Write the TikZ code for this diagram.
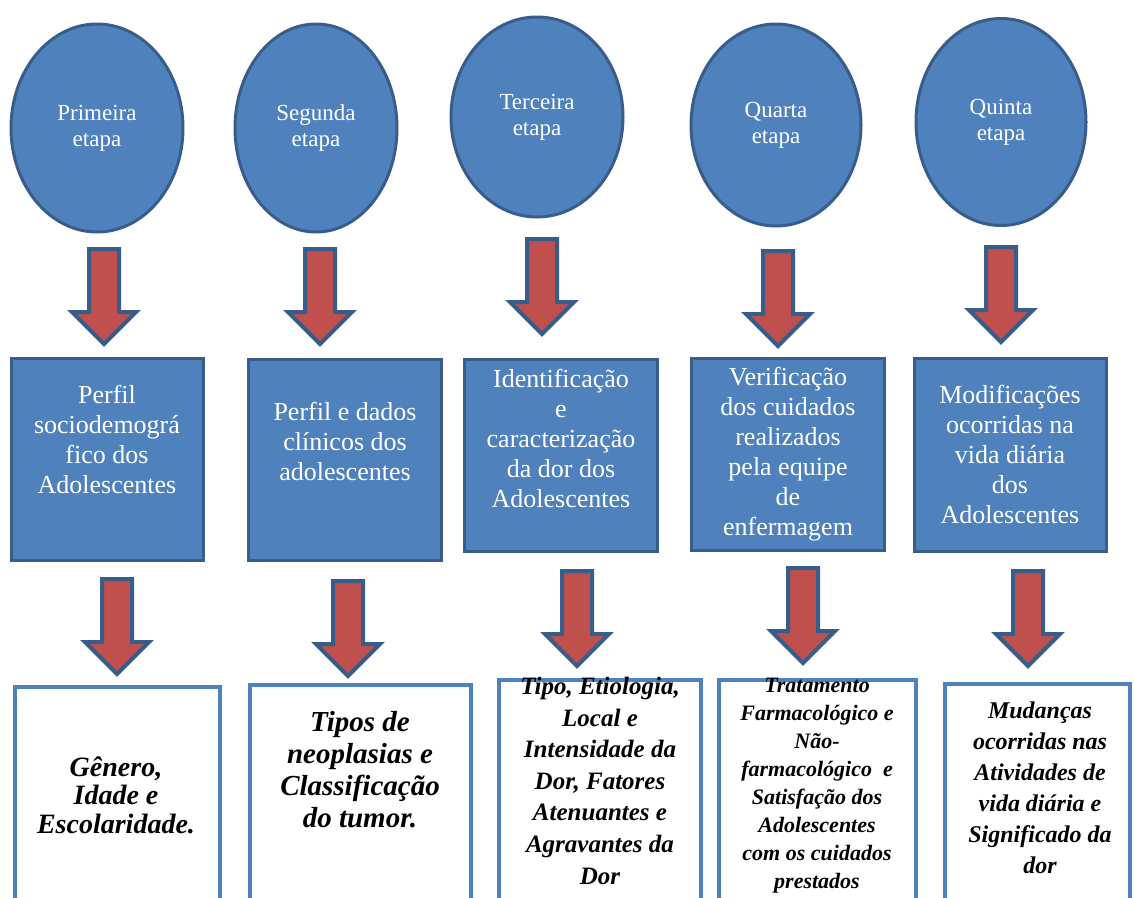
\documentclass[tikz,border=0pt]{standalone}
\usepackage{fontspec}
\setmainfont{Liberation Serif}
\usetikzlibrary{shapes.geometric,shapes.arrows}
\definecolor{stepblue}{HTML}{4F81BD}
\definecolor{stepedge}{HTML}{385D8A}
\definecolor{arrowred}{HTML}{C0504D}
\tikzset{
  etapa/.style={ellipse, fill=stepblue, draw=stepedge, line width=3pt, inner sep=0pt,
    text=white, align=center, font=\fontsize{23}{26}\selectfont},
  perfil/.style={rectangle, fill=stepblue, draw=stepedge, line width=3pt, inner sep=0pt},
  perfiltext/.style={text=white, align=center, inner sep=0pt, anchor=base,
    font=\fontsize{26}{30}\selectfont},
  desce/.style={single arrow, shape border rotate=270, single arrow head extend=17pt,
    fill=arrowred, draw=stepedge, line width=4pt, inner sep=13pt, text width=0pt,
    text height=0pt, text depth=0pt, minimum height=95pt, anchor=tail},
  resultado/.style={rectangle, fill=white, draw=stepblue, line width=4pt, inner sep=0pt},
  resultadotext/.style={align=center, inner sep=0pt, anchor=base}
}
\begin{document}
\begin{tikzpicture}[x=1pt,y=-1pt]
    \useasboundingbox (0,0) rectangle (1134,897);
    \clip (0,0) rectangle (1134,897);

    \node[etapa, minimum width=172pt, minimum height=208pt] (c1) at (97,128) {Primeira\\etapa};
    \node[etapa, minimum width=162pt, minimum height=208pt] (c2) at (316,128) {Segunda\\etapa};
    \node[etapa, minimum width=172pt, minimum height=200pt] (c3) at (537,117) {Terceira\\etapa};
    \node[etapa, minimum width=170pt, minimum height=202pt] (c4) at (776,125) {Quarta\\etapa};
    \node[etapa, minimum width=170pt, minimum height=207pt] (c5) at (1001,122) {Quinta\\etapa};

    \node[perfil, minimum width=192pt, minimum height=202pt] (b1) at (107.5,459.5) {};
    \node[perfil, minimum width=193pt, minimum height=201pt] (b2) at (345,460) {};
    \node[perfil, minimum width=193pt, minimum height=192pt] (b3) at (561,455.5) {};
    \node[perfil, minimum width=193pt, minimum height=192pt] (b4) at (788,454.5) {};
    \node[perfil, minimum width=192pt, minimum height=193pt] (b5) at (1010.5,455) {};

    \node[perfiltext] (t1) at (107,493) {Perfil\\sociodemográ\\fico dos\\Adolescentes};
    \node[perfiltext] (t2) at (345,480) {Perfil e dados\\clínicos dos\\adolescentes};
    \node[perfiltext] (t3) at (561,507) {Identificação\\e\\caracterização\\da dor dos\\Adolescentes};
    \node[perfiltext] (t4) at (788,535) {Verificação\\dos cuidados\\realizados\\pela equipe\\de\\enfermagem};
    \node[perfiltext] (t5) at (1010,523) {Modificações\\ocorridas na\\vida diária\\dos\\Adolescentes};

    \node[resultado, minimum width=205pt, minimum height=223pt] (d1) at (117.5,798.5) {};
    \node[resultado, minimum width=221pt, minimum height=225pt] (d2) at (360.5,797.5) {};
    \node[resultado, minimum width=202pt, minimum height=230pt] (d3) at (600,795) {};
    \node[resultado, minimum width=197pt, minimum height=230pt] (d4) at (817.5,795) {};
    \node[resultado, minimum width=185pt, minimum height=226pt] (d5) at (1037.5,797) {};

    \node[resultadotext, font=\fontsize{28}{28.5}\selectfont\bfseries\itshape] (e1) at (116,833)
        {Gênero,\\Idade e\\Escolaridade.};
    \node[resultadotext, font=\fontsize{29}{31.7}\selectfont\bfseries\itshape] (e2) at (360,827)
        {Tipos de\\neoplasias e\\Classificação\\do tumor.};
    \node[resultadotext, font=\fontsize{25}{31.6}\selectfont\bfseries\itshape] (e3) at (600,884)
        {Tipo, Etiologia,\\Local e\\Intensidade da\\Dor, Fatores\\Atenuantes e\\Agravantes da\\Dor};
    \node[resultadotext, font=\fontsize{22}{27.9}\selectfont\bfseries\itshape] (e4) at (817,888)
        {Tratamento\\Farmacológico e\\Não-\\farmacológico\ \ e\\Satisfação dos\\Adolescentes\\com os cuidados\\prestados};
    \node[resultadotext, font=\fontsize{24}{31}\selectfont\bfseries\itshape] (e5) at (1040,873)
        {Mudanças\\ocorridas nas\\Atividades de\\vida diária e\\Significado da\\dor};

    \node[desce] (a1) at (104,247) {};
    \node[desce] (a2) at (320,247) {};
    \node[desce] (a3) at (542,237) {};
    \node[desce] (a4) at (778,249) {};
    \node[desce] (a5) at (1001,245) {};

    \node[desce] (r1) at (117,577) {};
    \node[desce] (r2) at (348,579) {};
    \node[desce] (r3) at (577,569) {};
    \node[desce] (r4) at (803,566) {};
    \node[desce] (r5) at (1028,569) {};
\end{tikzpicture}
\end{document}
